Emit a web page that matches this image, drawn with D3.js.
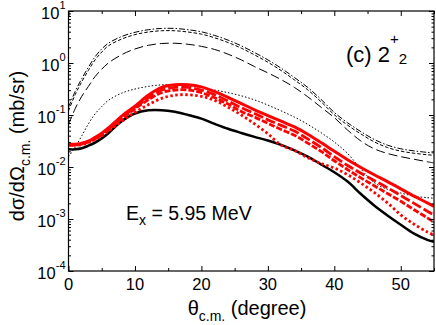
<!DOCTYPE html>
<html><head><meta charset="utf-8">
<script src="https://cdn.jsdelivr.net/npm/d3@7"></script>
<style>body{margin:0;background:#fff}svg{display:block}text{font-family:"Liberation Sans",Arial,sans-serif;fill:#000}</style>
</head><body><svg id="c" width="436" height="325"></svg>
<script>
// angles (degree)
const theta = [0,1,2,3,4,5,6,8,10,12,14,16,18,20,22,24,26,28,30,32,34,36,38,40,42,44,46,48,50,52,54,55];
// cross sections (mb/sr)
const blackSolid = [0.0219,0.0219,0.0229,0.0257,0.0295,0.0355,0.0447,0.0759,0.107,0.123,0.124,0.115,0.100,0.0851,0.0676,0.0543,0.0452,0.0380,0.0324,0.0266,0.0209,0.0158,0.0112,0.00794,0.00525,0.00302,0.00182,0.00117,0.000776,0.000525,0.000398,0.000363];
const blackDotted = [0.0158,0.0240,0.0398,0.0676,0.105,0.145,0.191,0.263,0.316,0.355,0.380,0.380,0.363,0.339,0.302,0.269,0.234,0.195,0.155,0.120,0.0912,0.0661,0.0457,0.0302,0.0182,0.00912,0.00501,0.00372,0.00316,0.00275,0.00257,0.00251];
const blackDashDot = [0.141,0.282,0.501,0.832,1.318,1.862,2.399,3.236,3.890,4.365,4.62,4.62,4.365,3.981,3.388,2.754,2.138,1.585,1.148,0.794,0.525,0.339,0.200,0.112,0.0708,0.0479,0.0339,0.0263,0.0224,0.0204,0.0191,0.0186];
const blackShortDash = [0.120,0.245,0.437,0.724,1.148,1.622,2.138,2.884,3.51,3.94,4.169,4.169,3.94,3.59,3.05,2.48,1.93,1.43,1.035,0.716,0.473,0.305,0.180,0.101,0.0638,0.0432,0.0305,0.0237,0.0202,0.0184,0.0172,0.0168];
const blackLongDash = [0.0646,0.132,0.229,0.355,0.550,0.759,1.000,1.445,1.862,2.188,2.37,2.399,2.291,2.089,1.820,1.479,1.148,0.851,0.646,0.479,0.339,0.224,0.141,0.0891,0.0513,0.0316,0.0224,0.0182,0.0158,0.0141,0.0126,0.0120];
const redSolid = [0.0275,0.0275,0.0288,0.0316,0.0372,0.0447,0.0562,0.0955,0.148,0.240,0.339,0.380,0.380,0.347,0.282,0.219,0.166,0.126,0.0977,0.0759,0.0589,0.0427,0.0295,0.0200,0.0138,0.00977,0.00708,0.00525,0.00380,0.00275,0.00204,0.00174];
const redDashed = [0.0269,0.0269,0.0282,0.0309,0.0359,0.0427,0.0537,0.0902,0.138,0.214,0.302,0.339,0.339,0.302,0.245,0.186,0.138,0.107,0.0813,0.0631,0.0490,0.0347,0.0240,0.0158,0.0107,0.00759,0.00550,0.00398,0.00282,0.00200,0.00141,0.00120];
const redDash2 = [0.0263,0.0263,0.0275,0.0302,0.0347,0.0412,0.0513,0.0851,0.132,0.195,0.269,0.302,0.302,0.269,0.214,0.162,0.117,0.0912,0.0692,0.0525,0.0407,0.0288,0.0200,0.0132,0.00891,0.00617,0.00437,0.00309,0.00219,0.00151,0.00105,0.000871];
const redDotted = [0.0263,0.0263,0.0269,0.0295,0.0339,0.0398,0.0490,0.0759,0.112,0.158,0.209,0.240,0.245,0.229,0.191,0.141,0.100,0.0676,0.0437,0.0263,0.0209,0.0151,0.0117,0.00955,0.00708,0.00490,0.00324,0.00204,0.00120,0.000794,0.000562,0.000490];
const xTicks = [0,10,20,30,40,50];
const xMinor = [5,15,25,35,45,55];
const yExps = [1,0,-1,-2,-3,-4];

const svg = d3.select("#c");
const L=68.5, R=434, T=11, B=271;
const x = d3.scaleLinear().domain([0,55]).range([L,R]);
const y = d3.scaleLog().domain([1e-4,10]).range([B,T]);

const series = [
  {d:blackLongDash, c:"#000", w:1, dash:"9,4"},
  {d:blackShortDash, c:"#000", w:1, dash:"3.5,2"},
  {d:blackDashDot, c:"#000", w:1, dash:"6,2,1.5,2"},
  {d:blackDotted, c:"#000", w:1, dash:"1.5,2"},
  {d:blackSolid, c:"#000", w:2.5, dash:null},
  {d:redDotted, c:"#ff0000", w:2.8, dash:"2.5,2.5"},
  {d:redDash2, c:"#ff0000", w:2.8, dash:"6,2"},
  {d:redDashed, c:"#ff0000", w:2.8, dash:"10,3"},
  {d:redSolid, c:"#ff0000", w:3, dash:null}
];
svg.append("clipPath").attr("id","pc").append("rect").attr("x",L).attr("y",T).attr("width",R-L).attr("height",B-T);
const line = d3.line().x((v,i)=>x(theta[i])).y(v=>y(v)).curve(d3.curveCatmullRom.alpha(0.5));
const g = svg.append("g").attr("clip-path","url(#pc)");
series.forEach(s=>{
  g.append("path").attr("d",line(s.d)).attr("fill","none").attr("stroke",s.c)
   .attr("stroke-width",s.w).attr("stroke-dasharray",s.dash);
});

// frame
svg.append("rect").attr("x",L).attr("y",T).attr("width",R-L).attr("height",B-T)
  .attr("fill","none").attr("stroke","#000").attr("stroke-width",1.2);

// axes with inward ticks
const axB = d3.axisBottom(x).tickValues(xTicks).tickSize(-5).tickFormat("");
const axT = d3.axisTop(x).tickValues(xTicks).tickSize(-5).tickFormat("");
const axBm = d3.axisBottom(x).tickValues(xMinor).tickSize(-3).tickFormat("");
const axTm = d3.axisTop(x).tickValues(xMinor).tickSize(-3).tickFormat("");
[[axB,B],[axBm,B],[axT,T],[axTm,T]].forEach(([a,yy])=>{
  const gg=svg.append("g").attr("transform",`translate(0,${yy})`).call(a);
  gg.select(".domain").remove();
  gg.selectAll("line").attr("stroke","#000").attr("stroke-width",1);
});
const majY = yExps.map(e=>Math.pow(10,e));
const minY = [];
yExps.slice(1).forEach(e=>{for(let k=2;k<=9;k++)minY.push(k*Math.pow(10,e));});
const axL = d3.axisLeft(y).tickValues(majY).tickSize(-5).tickFormat("");
const axR = d3.axisRight(y).tickValues(majY).tickSize(-5).tickFormat("");
const axLm = d3.axisLeft(y).tickValues(minY).tickSize(-2.5).tickFormat("");
const axRm = d3.axisRight(y).tickValues(minY).tickSize(-2.5).tickFormat("");
[[axL,L],[axLm,L],[axR,R],[axRm,R]].forEach(([a,xx])=>{
  const gg=svg.append("g").attr("transform",`translate(${xx},0)`).call(a);
  gg.select(".domain").remove();
  gg.selectAll("line").attr("stroke","#000").attr("stroke-width",1);
});

// tick labels
xTicks.forEach(t=>{
  svg.append("text").attr("x",x(t)).attr("y",290).attr("text-anchor","middle")
    .attr("font-size",16.5).text(t);
});
yExps.forEach(e=>{
  const t=svg.append("text").attr("x",65.5).attr("y",y(Math.pow(10,e))+8).attr("text-anchor","end").attr("font-size",16.5);
  t.append("tspan").text("10");
  t.append("tspan").attr("font-size",11).attr("dy",-10).text(String(e));
});

// axis titles
const xt = svg.append("text").attr("x",247).attr("y",315).attr("text-anchor","middle").attr("font-size",20);
xt.append("tspan").text("θ");
xt.append("tspan").attr("font-size",14).attr("dy",6).text("c.m.");
xt.append("tspan").attr("dy",-6).text(" (degree)");

const yt = svg.append("text").attr("transform","translate(24,146) rotate(-90)").attr("text-anchor","middle").attr("font-size",20);
yt.append("tspan").text("dσ/dΩ");
yt.append("tspan").attr("font-size",14).attr("dy",6).text("c.m.");
yt.append("tspan").attr("dy",-6).text(" (mb/sr)");

// annotations
const an = svg.append("text").attr("x",346).attr("y",62).attr("font-size",22);
an.append("tspan").text("(c) 2");
an.append("tspan").attr("font-size",15).attr("dy",-18).text("+");
an.append("tspan").attr("font-size",15).attr("dy",20).text("2");

const ex = svg.append("text").attr("x",126).attr("y",219.5).attr("font-size",19.5);
ex.append("tspan").text("E");
ex.append("tspan").attr("font-size",14).attr("dy",5).text("x");
ex.append("tspan").attr("dy",-5).text(" = 5.95 MeV");
</script></body></html>
